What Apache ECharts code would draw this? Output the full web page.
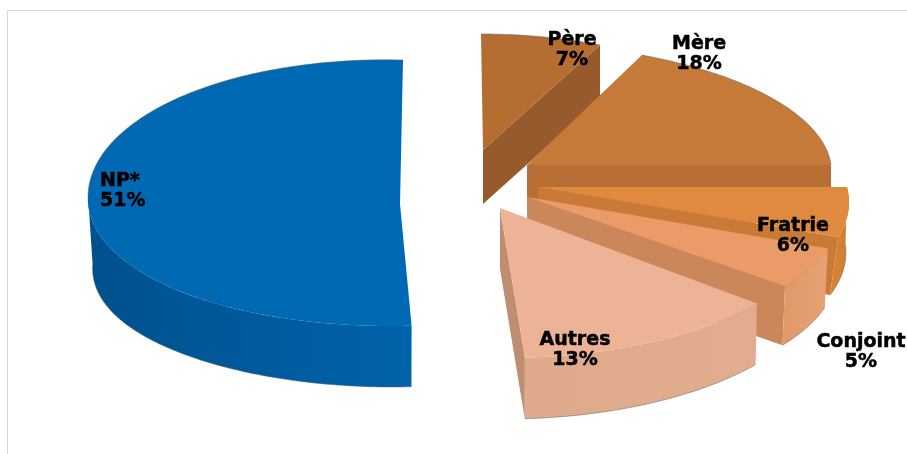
<!DOCTYPE html>
<html><head><meta charset="utf-8">
<style>html,body{margin:0;padding:0;background:#fff}#c{width:907px;height:454px}</style>
<script src="https://cdn.jsdelivr.net/npm/echarts@6/dist/echarts.min.js"></script>
</head><body><div id="c"></div>
<script>
const categories = ['NP*','Père','Mère','Fratrie','Conjoint','Autres'];
const shares = [51,7,18,6,5,13];

// Rendering style of each exploded slice (perspective projection), no data.
const look = {
 'NP*':     {ax:400,ay:204,rx:312,ryT:144,ryB:122,skT:3,skB:8,tilt:-8,depth:61,bs:.985,bsk:0,bulge:4,side:8,top:'#0069b4',outer:['#00508c','#0063ab'],radial:null,lab:[100,191,'left']},
 'Père':    {ax:483,ay:150,rx:279,ryT:116,ryB:116,skT:-2,skB:0,tilt:0,depth:54,bs:1,bsk:0,bulge:0,side:0,top:'#b66d31',outer:null,radial:'#975a2c',lab:[572,50,'center']},
 'Mère':    {ax:527,ay:165,rx:304,ryT:121.5,ryB:121,skT:-16,skB:0,tilt:0,depth:58,bs:1,bsk:0,bulge:0,side:0,top:'#c67a3a',outer:null,radial:'#b76f36',lab:[699,54,'center']},
 'Fratrie': {ax:538,ay:187,rx:309,ryT:136,ryB:136,skT:0,skB:-35,tilt:0,depth:58,bs:.995,bsk:18,bulge:0,side:0,top:'#e08a3f',outer:['#d98434','#cf7d31'],radial:'#c97a36',lab:[793,236,'center']},
 'Conjoint':{ax:527,ay:197,rx:313,ryT:140,ryB:140,skT:0,skB:-26.5,tilt:0,depth:59,bs:.99,bsk:0,bulge:0,side:0,top:'#ea9b68',outer:['#e09a6a','#e8a172'],radial:'#cb8659',lab:[861,352,'center']},
 'Autres':  {ax:500,ay:208,rx:330,ryT:150,ryB:150,skT:0,skB:-4.2,tilt:0,depth:61,bs:.995,bsk:0,bulge:0,side:0,top:'#ecb396',outer:['#dfa98b','#e2ac8f'],radial:'#bf8d70',lab:[575,350,'center']}
};

const total = shares.reduce((a,b)=>a+b,0);
const order = [1,2,3,4,5,0];            // clockwise from the top
const spans = {};
let acc = 0;
order.forEach(i=>{ const s=acc/total*360; acc+=shares[i]; spans[i]=[s,acc/total*360]; });

function pt(L,deg,bottom){
  const t=deg*Math.PI/180, s=Math.sin(t), c=Math.cos(t);
  let dx=L.rx*s+(c>0?L.skT:L.skB)*c;
  let y=L.ay-(c>0?L.ryT:L.ryB)*c+L.tilt*Math.abs(s);
  if(c<0) y+=L.bulge*Math.abs(Math.sin(2*t));
  if(bottom){
    dx=dx*L.bs+(c<0?L.bsk*c:0);
    y+=L.depth+L.side*Math.pow(s,4);
  }
  return [L.ax+dx,y];
}
function arc(L,a,b,bottom){
  const r=[];const n=Math.max(2,Math.ceil(Math.abs(b-a)));
  for(let k=0;k<=n;k++) r.push(pt(L,a+(b-a)*k/n,bottom));
  return r;
}
const edge='rgba(95,95,95,.5)';
function renderSlice(params){
  const i=params.dataIndex, L=look[categories[i]], a=spans[i][0], b=spans[i][1];
  const kids=[];
  const apex=[L.ax,L.ay], apexB=[L.ax,L.ay+L.depth];
  if(L.radial){
    kids.push({type:'polygon',shape:{points:[apex,pt(L,b),pt(L,b,true),apexB]},style:{fill:L.radial}});
  }
  if(L.outer){
    const s=Math.max(a,90), e=Math.min(b,270);
    if(e>s){
      const left=i===0;
      kids.push({type:'polygon',shape:{points:arc(L,s,e,false).concat(arc(L,e,s,true))},
        style:{fill:new echarts.graphic.LinearGradient(0,0,1,0,[
          {offset:0,color:L.outer[0]},{offset:1,color:L.outer[1]}])}});
      kids.push({type:'polyline',shape:{points:arc(L,s,e,true)},style:{fill:null,stroke:edge,lineWidth:1}});
    }
  }
  kids.push({type:'polygon',shape:{points:[apex].concat(arc(L,a,b,false))},style:{fill:L.top}});
  if(a<90) kids.push({type:'polyline',shape:{points:arc(L,a,Math.min(b,90),false)},style:{fill:null,stroke:edge,lineWidth:1}});
  if(b>270) kids.push({type:'polyline',shape:{points:arc(L,Math.max(a,270),b,false)},style:{fill:null,stroke:edge,lineWidth:1}});
  return {type:'group',children:kids};
}
function renderLabel(params){
  const i=params.dataIndex, L=look[categories[i]];
  return {type:'text',x:L.lab[0],y:L.lab[1],style:{
    text:categories[i]+'\n'+shares[i]+'%',fill:'#000',stroke:'#000',lineWidth:.5,align:L.lab[2],verticalAlign:'middle',
    font:'bold 19px "DejaVu Sans"',lineHeight:20}};
}
const chart=echarts.init(document.getElementById('c'),null,{renderer:'canvas'});
const rows=categories.map((n,i)=>({name:n,value:shares[i]}));
chart.setOption({
  animation:false,
  backgroundColor:'#fff',
  graphic:[{type:'rect',shape:{x:7.5,y:10.5,width:1100,height:600},style:{fill:null,stroke:'#d9d9d9',lineWidth:1},silent:true}],
  series:[
    {type:'custom',coordinateSystem:'none',data:rows,renderItem:renderSlice,silent:true,z:2},
    {type:'custom',coordinateSystem:'none',data:rows,renderItem:renderLabel,silent:true,z:3}
  ]
});
</script></body></html>
